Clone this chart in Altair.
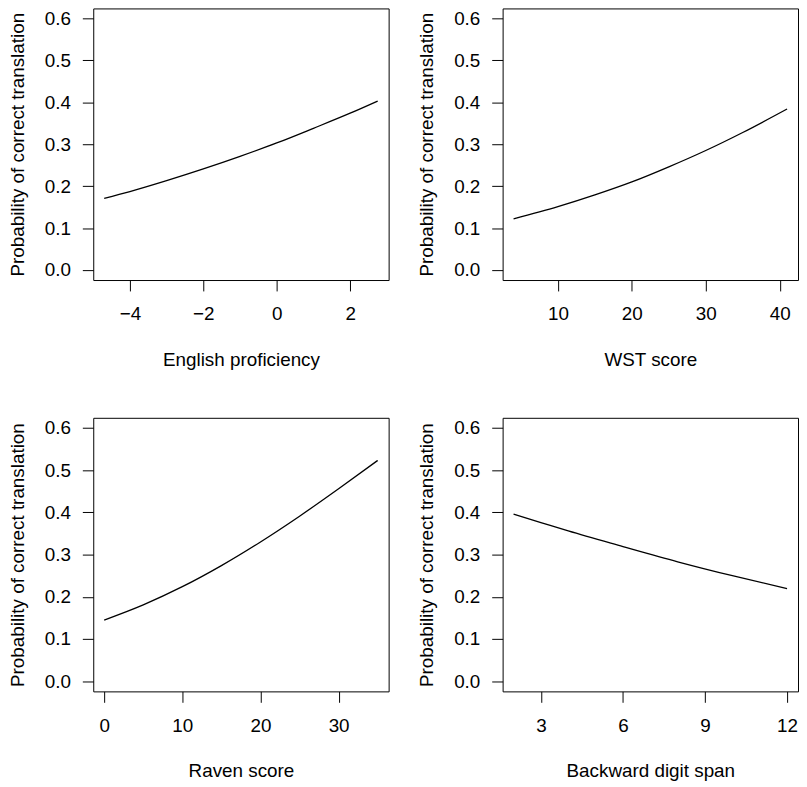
import altair as alt
import pandas as pd

# ---- data ----
y_title = "Probability of correct translation"
y_ticks = [0.0, 0.1, 0.2, 0.3, 0.4, 0.5, 0.6]
y_domain = [-0.024, 0.624]

eng_x = [-4.7, -4, -3, -2, -1, 0, 1, 2, 2.75]
eng_p = [0.171, 0.187, 0.213, 0.241, 0.271, 0.303, 0.338, 0.374, 0.403]
eng_ticks = [-4, -2, 0, 2]
eng_domain = [-4.998, 3.048]

wst_x = [4, 10, 15, 20, 25, 30, 35, 41]
wst_p = [0.122, 0.151, 0.179, 0.210, 0.246, 0.285, 0.328, 0.384]
wst_ticks = [10, 20, 30, 40]
wst_domain = [2.52, 42.48]

raven_x = [0, 5, 10, 15, 20, 25, 30, 35]
raven_p = [0.145, 0.181, 0.224, 0.274, 0.330, 0.391, 0.456, 0.523]
raven_ticks = [0, 10, 20, 30]
raven_domain = [-1.4, 36.4]

bds_x = [2, 3, 4, 6, 8, 10, 12]
bds_p = [0.396, 0.376, 0.356, 0.319, 0.283, 0.250, 0.2195]
bds_ticks = [3, 6, 9, 12]
bds_domain = [1.6, 12.4]

W = 298


def panel(xs, ps, xtitle, xticks, xdomain, h):
    df = pd.DataFrame({"x": xs, "p": ps})
    return (
        alt.Chart(df)
        .mark_line(color="black", strokeWidth=1.3, interpolate="monotone")
        .encode(
            x=alt.X(
                "x:Q",
                title=xtitle,
                scale=alt.Scale(domain=xdomain, nice=False, zero=False),
                axis=alt.Axis(values=xticks, labelFlush=False, labelOverlap=False),
            ),
            y=alt.Y(
                "p:Q",
                title=y_title,
                scale=alt.Scale(domain=y_domain, nice=False, zero=False),
                axis=alt.Axis(values=y_ticks, format=".1f", labelFlush=False,
                              labelOverlap=False),
            ),
        )
        .properties(width=W, height=h)
    )


p1 = panel(eng_x, eng_p, "English proficiency", eng_ticks, eng_domain, 274)
p2 = panel(wst_x, wst_p, "WST score", wst_ticks, wst_domain, 274)
p3 = panel(raven_x, raven_p, "Raven score", raven_ticks, raven_domain, 276)
p4 = panel(bds_x, bds_p, "Backward digit span", bds_ticks, bds_domain, 276)

row1 = alt.hconcat(p1, p2, spacing=28)
row2 = alt.hconcat(p3, p4, spacing=28)

chart = (
    alt.vconcat(row1, row2, spacing=47)
    .properties(padding={"top": -4, "left": 0, "right": 0, "bottom": 0},
                background="white")
    .configure_view(stroke="black", strokeWidth=1, fill="white")
    .configure_axis(
        domain=False,
        grid=False,
        ticks=True,
        tickColor="black",
        tickSize=11,
        tickWidth=1,
        labelColor="black",
        labelFont="Liberation Sans",
        labelFontSize=19,
        titleFont="Liberation Sans",
        titleFontSize=19,
        titleFontWeight="normal",
        titleColor="black",
    )
    .configure_axisX(labelPadding=14, titlePadding=27)
    .configure_axisY(labelPadding=12, titlePadding=17)
)

chart.save("out.html", embed_options={"renderer": "svg", "actions": False})
